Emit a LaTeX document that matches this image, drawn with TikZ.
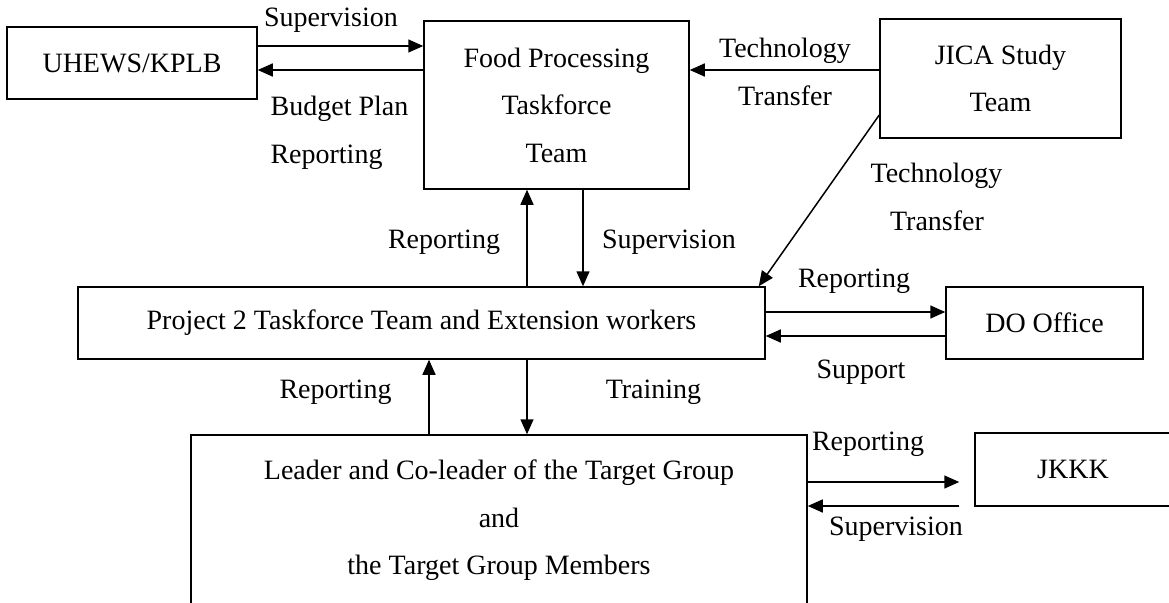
\documentclass[tikz,border=0pt]{standalone}
\usepackage{fontspec}
\setmainfont{Liberation Serif}
\usetikzlibrary{arrows.meta,calc}
\begin{document}
\begin{tikzpicture}[x=1pt,y=-1pt,
  box/.style={draw,line width=1.5pt,inner sep=0pt,align=center,font=\fontsize{28}{47.5}\selectfont},
  arr/.style={line width=1.5pt,-{Triangle[length=15pt,width=13pt]}},
  lbl/.style={inner sep=0pt,anchor=base,font=\fontsize{28}{32}\selectfont}]
\useasboundingbox (0,0) rectangle (1169,602);
% boxes
\node[box,minimum width=250,minimum height=72] (uhews) at (132,63) {UHEWS/KPLB};
\node[box,minimum width=265,minimum height=168] (food) at (556.5,105) {Food Processing\\Taskforce\\Team};
\node[box,minimum width=241,minimum height=119] (jica) at (1000.5,78.5) {JICA Study\\Team};
\node[box,minimum width=687,minimum height=72] (proj) at (421.5,323) {Project 2 Taskforce Team and Extension workers};
\node[box,minimum width=197,minimum height=72] (do) at (1044.5,323) {DO Office};
\node[box,minimum width=616,minimum height=171] (lead) at (499,520.5) {Leader and Co-leader of the Target Group\\and\\the Target Group Members};
\node[box,minimum width=196,minimum height=73] (jkkk) at (1073,469.5) {JKKK};
% connectors
\draw[arr] (uhews.east |- 0,46) -- (food.west |- 0,46);
\draw[arr] (food.west |- 0,70) -- (uhews.east |- 0,70);
\draw[arr] (jica.west |- 0,70) -- (food.east |- 0,70);
\draw[arr] (jica.west |- 0,115) -- ([xshift=-7pt]proj.north east);
\draw[arr] (proj.north -| 527,0) -- (food.south -| 527,0);
\draw[arr] (food.south -| 583,0) -- (proj.north -| 583,0);
\draw[arr] (proj.east |- 0,312) -- (do.west |- 0,312);
\draw[arr] (do.west |- 0,336) -- (proj.east |- 0,336);
\draw[arr] (lead.north -| 429,0) -- (proj.south -| 429,0);
\draw[arr] (proj.south -| 527,0) -- (lead.north -| 527,0);
\coordinate (jk1) at ([xshift=-15pt]jkkk.west |- 0,482);
\coordinate (jk2) at ([xshift=-15pt]jkkk.west |- 0,506);
\draw[arr] (lead.east |- 0,482) -- (jk1);
\draw[arr] (jk2) -- (lead.east |- 0,506);
% labels
\node[lbl] (l1) at (331,27) {Supervision};
\node[lbl] (l2) at (339.5,115) {Budget Plan};
\node[lbl] (l3) at (326.5,163) {Reporting};
\node[lbl] (l4) at (785,57) {Technology};
\node[lbl] (l5) at (785,105) {Transfer};
\node[lbl] (l6) at (936.5,182) {Technology};
\node[lbl] (l7) at (937,230) {Transfer};
\node[lbl] (l8) at (444,248) {Reporting};
\node[lbl] (l9) at (669,248) {Supervision};
\node[lbl] (l10) at (854,287) {Reporting};
\node[lbl] (l11) at (861,378) {Support};
\node[lbl] (l12) at (335.5,398) {Reporting};
\node[lbl] (l13) at (653.5,398) {Training};
\node[lbl] (l14) at (868,450) {Reporting};
\node[lbl] (l15) at (896,535) {Supervision};
\end{tikzpicture}
\end{document}
